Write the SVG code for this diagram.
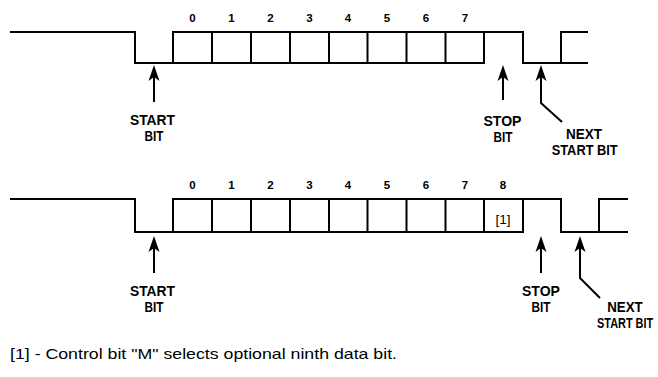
<svg xmlns="http://www.w3.org/2000/svg" width="658" height="377" viewBox="0 0 658 377">
<style>
.w{fill:none;stroke:#000;stroke-width:2;stroke-linejoin:miter;stroke-linecap:square}
.c{fill:none;stroke:#000;stroke-width:2}
.l{font-family:"Liberation Sans",Arial,sans-serif;font-weight:bold;font-size:14px;fill:#000}
.d{font-family:"Liberation Sans",Arial,sans-serif;font-weight:bold;font-size:11.5px;fill:#000;text-anchor:middle}
.m{text-anchor:middle}
.f{font-family:"Liberation Sans",Arial,sans-serif;font-size:14.5px;fill:#000}
</style>
<defs>
<marker id="ah" viewBox="-22 -6 23 12" refX="-6" refY="0" markerWidth="23" markerHeight="12" markerUnits="userSpaceOnUse" orient="auto">
<path d="M0,0 L-16,-5.5 L-12,0 L-16,5.5 Z" fill="#000"/>
</marker>
</defs>
<rect width="658" height="377" fill="#fff"/>
<g id="frame1">
<path class="w" d="M11,32 H135 V63 H173 V32 H523 V63 H561 V32 H587"/>
<path class="w" d="M173,63 H484 V32 M561,63 H587"/>
<path class="w" d="M212,32 V63 M251,32 V63 M290,32 V63 M329,32 V63 M367.5,32 V63 M406.5,32 V63 M445.5,32 V63"/>
<text class="d" x="192.5" y="22">0</text>
<text class="d" x="231.5" y="22">1</text>
<text class="d" x="270.5" y="22">2</text>
<text class="d" x="309.5" y="22">3</text>
<text class="d" x="348" y="22">4</text>
<text class="d" x="387" y="22">5</text>
<text class="d" x="426" y="22">6</text>
<text class="d" x="465" y="22">7</text>
</g>
<g id="frame2">
<path class="w" d="M11,199 H135 V232 H173 V199 H561 V232 H599 V199 H627"/>
<path class="w" d="M173,232 H523 V199 M599,232 H627"/>
<path class="w" d="M212,199 V232 M251,199 V232 M290,199 V232 M329,199 V232 M367.5,199 V232 M406.5,199 V232 M445.5,199 V232 M484,199 V232"/>
<text class="d" x="192.5" y="189">0</text>
<text class="d" x="231.5" y="189">1</text>
<text class="d" x="270.5" y="189">2</text>
<text class="d" x="309.5" y="189">3</text>
<text class="d" x="348" y="189">4</text>
<text class="d" x="387" y="189">5</text>
<text class="d" x="426" y="189">6</text>
<text class="d" x="465" y="189">7</text>
<text class="d" x="503" y="189">8</text>
<text x="503" y="224" font-family="Liberation Sans, Arial, sans-serif" font-size="13" text-anchor="middle" textLength="15" lengthAdjust="spacingAndGlyphs">[1]</text>
</g>
<g id="connectors">
<path class="c" d="M154,102 V71" marker-end="url(#ah)"/>
<path class="c" d="M503,100 V71" marker-end="url(#ah)"/>
<path class="c" d="M562,122 L541,103 V71" marker-end="url(#ah)"/>
<path class="c" d="M154,273 V242" marker-end="url(#ah)"/>
<path class="c" d="M541,273 V242" marker-end="url(#ah)"/>
<path class="c" d="M600,298 L580,278 V242" marker-end="url(#ah)"/>
</g>
<g id="start1">
<text class="l m" x="152.5" y="125" textLength="45" lengthAdjust="spacingAndGlyphs">START</text>
<text class="l m" x="154" y="141" textLength="19" lengthAdjust="spacingAndGlyphs">BIT</text>
</g>
<g id="stop1">
<text class="l m" x="502.5" y="125.5" textLength="38" lengthAdjust="spacingAndGlyphs">STOP</text>
<text class="l m" x="503" y="141.5" textLength="19" lengthAdjust="spacingAndGlyphs">BIT</text>
</g>
<g id="next1">
<text class="l m" x="584" y="138.5" textLength="36" lengthAdjust="spacingAndGlyphs">NEXT</text>
<text class="l" x="551.7" y="154.5" textLength="66" lengthAdjust="spacingAndGlyphs">START BIT</text>
</g>
<g id="start2">
<text class="l m" x="152.5" y="296" textLength="45" lengthAdjust="spacingAndGlyphs">START</text>
<text class="l m" x="154" y="312" textLength="19" lengthAdjust="spacingAndGlyphs">BIT</text>
</g>
<g id="stop2">
<text class="l m" x="541" y="296" textLength="38" lengthAdjust="spacingAndGlyphs">STOP</text>
<text class="l m" x="541" y="312" textLength="19" lengthAdjust="spacingAndGlyphs">BIT</text>
</g>
<g id="next2">
<text class="l m" x="625" y="312" textLength="35.5" lengthAdjust="spacingAndGlyphs">NEXT</text>
<text class="l" transform="translate(597,328) scale(0.78,1)" x="0" y="0">START BIT</text>
</g>
<g id="footnote">
<text class="f" x="10" y="359" textLength="387" lengthAdjust="spacingAndGlyphs">[1] - Control bit "M" selects optional ninth data bit.</text>
</g>
</svg>
